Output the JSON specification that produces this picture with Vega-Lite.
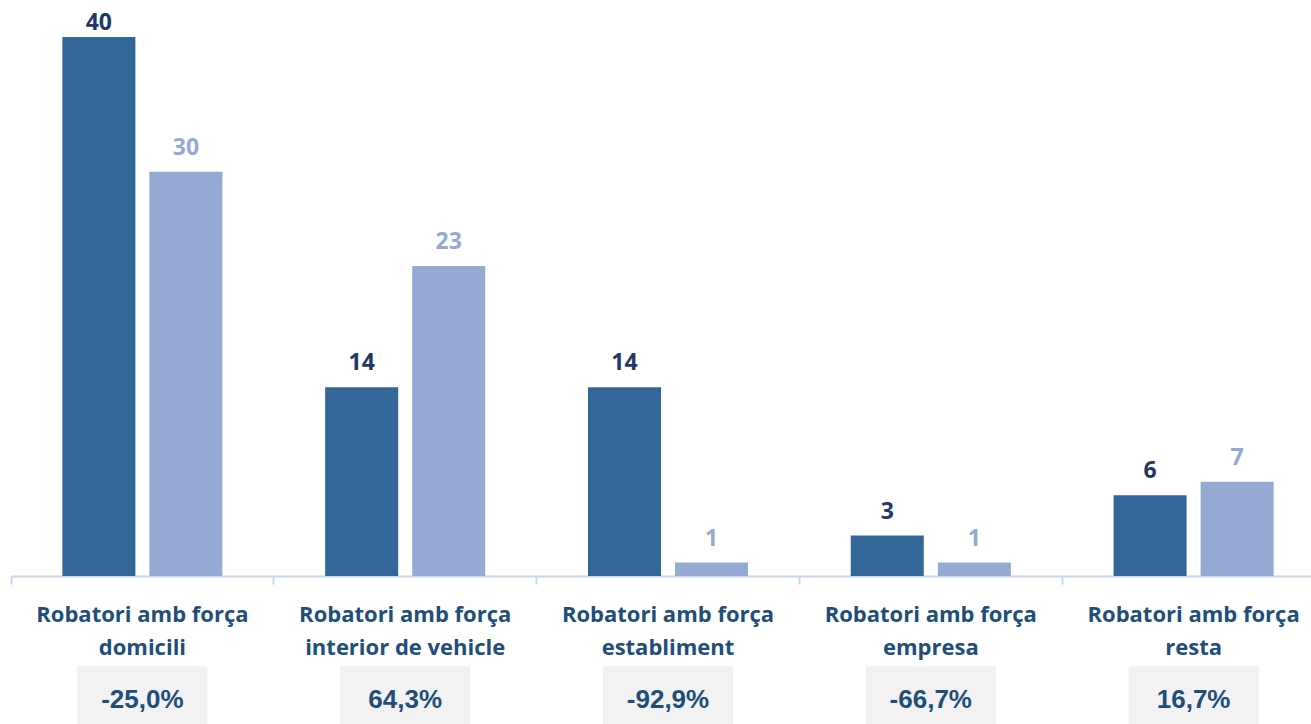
{
  "$schema": "https://vega.github.io/schema/vega-lite/v6.json",
  "width": 1300,
  "height": 576,
  "autosize": {"type": "none"},
  "padding": {"left": 11, "top": 0, "right": 0, "bottom": 148},
  "background": "white",
  "config": {"view": {"stroke": null}},
  "datasets": {
    "bars": [
      {"cat": "Robatori amb força domicili", "series": "Anterior", "value": 40},
      {"cat": "Robatori amb força domicili", "series": "Actual", "value": 30},
      {"cat": "Robatori amb força interior de vehicle", "series": "Anterior", "value": 14},
      {"cat": "Robatori amb força interior de vehicle", "series": "Actual", "value": 23},
      {"cat": "Robatori amb força establiment", "series": "Anterior", "value": 14},
      {"cat": "Robatori amb força establiment", "series": "Actual", "value": 1},
      {"cat": "Robatori amb força empresa", "series": "Anterior", "value": 3},
      {"cat": "Robatori amb força empresa", "series": "Actual", "value": 1},
      {"cat": "Robatori amb força resta", "series": "Anterior", "value": 6},
      {"cat": "Robatori amb força resta", "series": "Actual", "value": 7}
    ],
    "pct": [
      {"cat": "Robatori amb força domicili", "pct": "-25,0%"},
      {"cat": "Robatori amb força interior de vehicle", "pct": "64,3%"},
      {"cat": "Robatori amb força establiment", "pct": "-92,9%"},
      {"cat": "Robatori amb força empresa", "pct": "-66,7%"},
      {"cat": "Robatori amb força resta", "pct": "16,7%"}
    ]
  },
  "encoding": {
    "x": {
      "field": "cat",
      "type": "nominal",
      "sort": null,
      "title": null,
      "scale": {"range": [0, 1314], "paddingInner": 0, "paddingOuter": 0},
      "axis": {
        "bandPosition": 0,
        "domainColor": "#c9d5ea",
        "domainWidth": 2,
        "tickColor": "#c9d5ea",
        "tickWidth": 2,
        "tickSize": 8,
        "labelAngle": 0,
        "labelFont": "Open Sans",
        "labelFontSize": 22,
        "labelFontWeight": "bold",
        "labelColor": "#1f4e79",
        "labelPadding": 20,
        "labelLineHeight": 33,
        "labelLimit": 400,
        "labelOverlap": false,
        "labelExpr": "['Robatori amb força', replace(datum.label, 'Robatori amb força ', '')]"
      }
    }
  },
  "layer": [
    {
      "data": {"name": "bars"},
      "mark": {"type": "bar"},
      "encoding": {
        "xOffset": {"field": "series", "type": "nominal", "sort": ["Anterior", "Actual"], "scale": {"paddingInner": 0.161, "paddingOuter": 0.59}},
        "y": {"field": "value", "type": "quantitative", "scale": {"domain": [0, 42.75], "nice": false}, "axis": null},
        "color": {"field": "series", "type": "nominal", "sort": ["Anterior", "Actual"], "scale": {"domain": ["Anterior", "Actual"], "range": ["#336699", "#95aad2"]}, "legend": null}
      }
    },
    {
      "data": {"name": "bars"},
      "transform": [{"filter": "datum.value < 40"}],
      "mark": {"type": "text", "font": "Open Sans", "fontSize": 23, "fontWeight": "bold", "baseline": "alphabetic", "dy": -17},
      "encoding": {
        "xOffset": {"field": "series", "type": "nominal", "sort": ["Anterior", "Actual"]},
        "y": {"field": "value", "type": "quantitative"},
        "text": {"field": "value", "type": "quantitative"},
        "color": {"condition": {"test": "datum.series === 'Anterior'", "value": "#1f3864"}, "value": "#95aad2"}
      }
    },
    {
      "data": {"name": "bars"},
      "transform": [{"filter": "datum.value >= 40"}],
      "mark": {"type": "text", "font": "Open Sans", "fontSize": 23, "fontWeight": "bold", "baseline": "alphabetic", "dy": -7},
      "encoding": {
        "xOffset": {"field": "series", "type": "nominal", "sort": ["Anterior", "Actual"]},
        "y": {"field": "value", "type": "quantitative"},
        "text": {"field": "value", "type": "quantitative"},
        "color": {"condition": {"test": "datum.series === 'Anterior'", "value": "#1f3864"}, "value": "#95aad2"}
      }
    },
    {
      "data": {"name": "pct"},
      "mark": {"type": "bar", "width": 130, "color": "#f2f2f2", "clip": false},
      "encoding": {
        "y": {"datum": -6.7, "type": "quantitative"},
        "y2": {"datum": -11.5}
      }
    },
    {
      "data": {"name": "pct"},
      "mark": {"type": "text", "font": "Liberation Sans", "fontSize": 26, "fontWeight": "bold", "baseline": "middle", "color": "#1f4e79"},
      "encoding": {
        "y": {"datum": -9.2, "type": "quantitative"},
        "text": {"field": "pct", "type": "nominal"}
      }
    }
  ]
}
